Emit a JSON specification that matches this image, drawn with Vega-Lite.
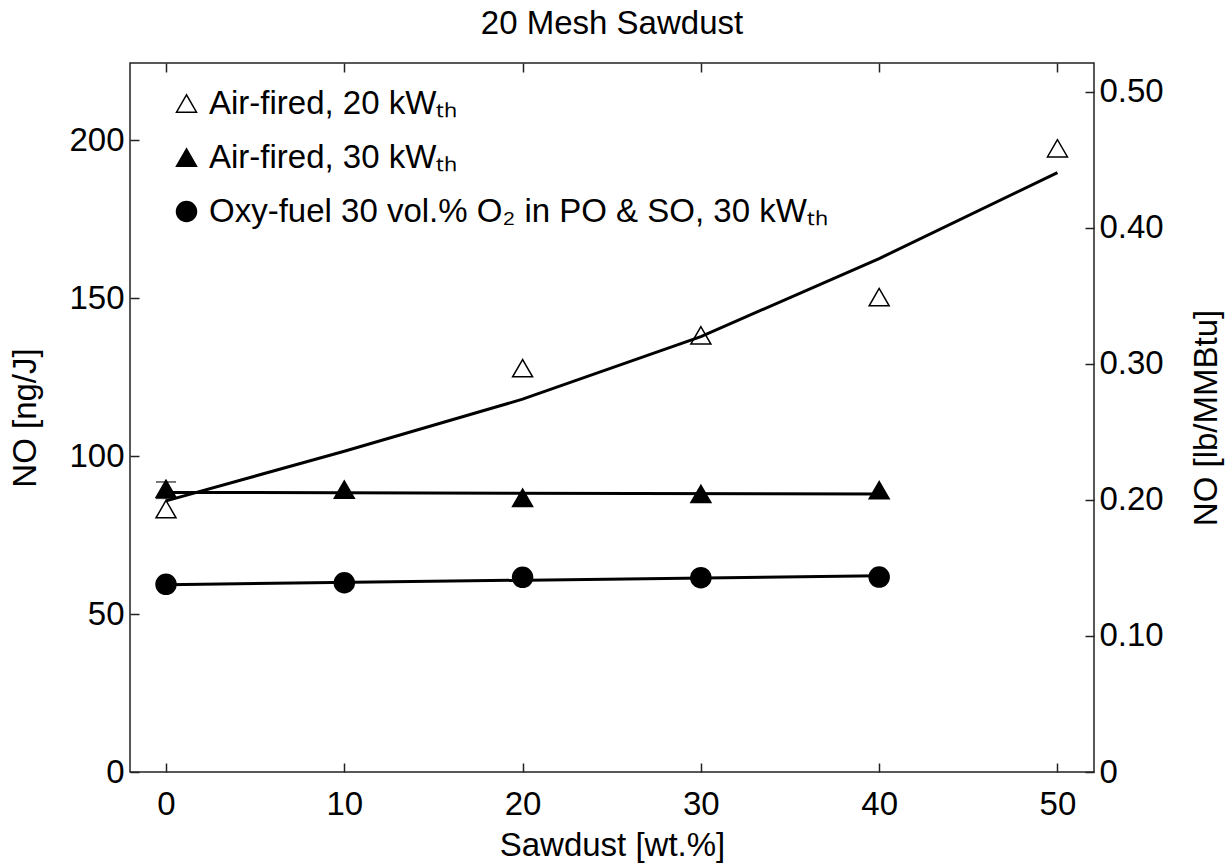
{
  "$schema": "https://vega.github.io/schema/vega-lite/v6.json",
  "width": 964,
  "height": 709,
  "autosize": {"type": "none"},
  "padding": {"left": 130, "top": 63, "right": 131, "bottom": 94},
  "background": "white",
  "config": {
    "font": "Liberation Sans",
    "view": {"stroke": "#222", "strokeWidth": 1.5},
    "axis": {
      "domain": false,
      "grid": false,
      "tickSize": -9,
      "tickColor": "#222",
      "tickWidth": 1.5,
      "labelFont": "Liberation Sans",
      "labelFontSize": 33,
      "labelColor": "black",
      "titleFont": "Liberation Sans",
      "titleFontSize": 33,
      "titleFontWeight": "normal",
      "titleColor": "black"
    },
    "legend": {
      "labelFont": "Liberation Sans",
      "labelFontSize": 33,
      "labelColor": "black",
      "labelLimit": 1000,
      "symbolSize": 400,
      "symbolStrokeWidth": 1.5,
      "rowPadding": 20,
      "labelOffset": 6,
      "padding": 0
    }
  },
  "title": {
    "text": "20 Mesh Sawdust",
    "font": "Liberation Sans",
    "fontSize": 33,
    "fontWeight": "normal",
    "color": "black",
    "offset": 21
  },
  "datasets": {
    "points": [
      {"series": "Air-fired, 20 kWₜₕ", "x": 0, "y": 83.2},
      {"series": "Air-fired, 20 kWₜₕ", "x": 20, "y": 127.8},
      {"series": "Air-fired, 20 kWₜₕ", "x": 30, "y": 138.2},
      {"series": "Air-fired, 20 kWₜₕ", "x": 40, "y": 150.3},
      {"series": "Air-fired, 20 kWₜₕ", "x": 50, "y": 197.4},
      {"series": "Air-fired, 30 kWₜₕ", "x": 0, "y": 89.6},
      {"series": "Air-fired, 30 kWₜₕ", "x": 10, "y": 89.4},
      {"series": "Air-fired, 30 kWₜₕ", "x": 20, "y": 86.8},
      {"series": "Air-fired, 30 kWₜₕ", "x": 30, "y": 88.0},
      {"series": "Air-fired, 30 kWₜₕ", "x": 40, "y": 89.2},
      {"series": "Oxy-fuel 30 vol.% O₂ in PO & SO, 30 kWₜₕ", "x": 0, "y": 59.4},
      {"series": "Oxy-fuel 30 vol.% O₂ in PO & SO, 30 kWₜₕ", "x": 10, "y": 59.9},
      {"series": "Oxy-fuel 30 vol.% O₂ in PO & SO, 30 kWₜₕ", "x": 20, "y": 61.6},
      {"series": "Oxy-fuel 30 vol.% O₂ in PO & SO, 30 kWₜₕ", "x": 30, "y": 61.5},
      {"series": "Oxy-fuel 30 vol.% O₂ in PO & SO, 30 kWₜₕ", "x": 40, "y": 61.7}
    ],
    "fits": [
      {"series": "A20", "x": 0, "y": 85.8},
      {"series": "A20", "x": 10, "y": 101.5},
      {"series": "A20", "x": 20, "y": 118.0},
      {"series": "A20", "x": 30, "y": 137.8},
      {"series": "A20", "x": 40, "y": 162.5},
      {"series": "A20", "x": 50, "y": 189.7},
      {"series": "A30", "x": 0, "y": 88.5},
      {"series": "A30", "x": 40, "y": 88.0},
      {"series": "Oxy", "x": 0, "y": 59.3},
      {"series": "Oxy", "x": 40, "y": 62.1}
    ],
    "errs": [
      {"x": 0, "lo": 86.6, "hi": 91.8}
    ],
    "axisref": [
      {"x": 0, "lb": 0}
    ]
  },
  "resolve": {"scale": {"y": "independent"}, "axis": {"x": "independent"}},
  "layer": [
    {
      "layer": [
        {
          "data": {"name": "fits"},
          "mark": {"type": "line", "color": "black", "strokeWidth": 3},
          "encoding": {
            "x": {"field": "x", "type": "quantitative", "scale": {"domain": [-2.02, 52.05], "nice": false, "zero": false},
              "axis": {"values": [0, 10, 20, 30, 40, 50], "title": "Sawdust [wt.%]", "labelPadding": 25, "titlePadding": 8}},
            "y": {"field": "y", "type": "quantitative", "scale": {"domain": [0, 224.4], "nice": false},
              "axis": {"orient": "left", "values": [0, 50, 100, 150, 200], "title": "NO [ng/J]", "labelPadding": 15, "titlePadding": 26}},
            "detail": {"field": "series"}
          }
        },
        {
          "data": {"name": "errs"},
          "mark": {"type": "rule", "color": "black", "strokeWidth": 1.5},
          "encoding": {
            "x": {"field": "x", "type": "quantitative"},
            "y": {"field": "lo", "type": "quantitative"},
            "y2": {"field": "hi"}
          }
        },
        {
          "data": {"name": "errs"},
          "mark": {"type": "tick", "orient": "horizontal", "color": "black", "size": 20, "thickness": 1.5},
          "encoding": {
            "x": {"field": "x", "type": "quantitative"},
            "y": {"field": "lo", "type": "quantitative"}
          }
        },
        {
          "data": {"name": "errs"},
          "mark": {"type": "tick", "orient": "horizontal", "color": "black", "size": 20, "thickness": 1.5},
          "encoding": {
            "x": {"field": "x", "type": "quantitative"},
            "y": {"field": "hi", "type": "quantitative"}
          }
        },
        {
          "data": {"name": "points"},
          "mark": {"type": "point", "filled": true, "opacity": 1, "stroke": "black", "strokeWidth": 1.5, "size": 400},
          "encoding": {
            "x": {"field": "x", "type": "quantitative"},
            "y": {"field": "y", "type": "quantitative"},
            "shape": {"field": "series", "type": "nominal",
              "scale": {"domain": ["Air-fired, 20 kWₜₕ", "Air-fired, 30 kWₜₕ", "Oxy-fuel 30 vol.% O₂ in PO & SO, 30 kWₜₕ"], "range": ["triangle-up", "triangle-up", "circle"]},
              "legend": {"title": null, "orient": "none", "legendX": 40, "legendY": 24}},
            "fill": {"field": "series", "type": "nominal",
              "scale": {"domain": ["Air-fired, 20 kWₜₕ", "Air-fired, 30 kWₜₕ", "Oxy-fuel 30 vol.% O₂ in PO & SO, 30 kWₜₕ"], "range": ["transparent", "black", "black"]},
              "legend": {"title": null, "orient": "none", "legendX": 40, "legendY": 24}}
          }
        }
      ]
    },
    {
      "data": {"name": "axisref"},
      "mark": {"type": "point", "opacity": 0},
      "encoding": {
        "x": {"field": "x", "type": "quantitative",
          "axis": {"orient": "top", "values": [0, 10, 20, 30, 40, 50], "labels": false, "title": null}},
        "y": {"field": "lb", "type": "quantitative", "scale": {"domain": [0, 0.5213], "nice": false},
          "axis": {"orient": "right", "values": [0, 0.1, 0.2, 0.3, 0.4, 0.5], "labelExpr": "datum.value == 0 ? '0' : format(datum.value, '.2f')", "title": "NO [lb/MMBtu]", "titleAngle": 270, "labelPadding": 14, "titlePadding": 60}}
      }
    }
  ]
}
